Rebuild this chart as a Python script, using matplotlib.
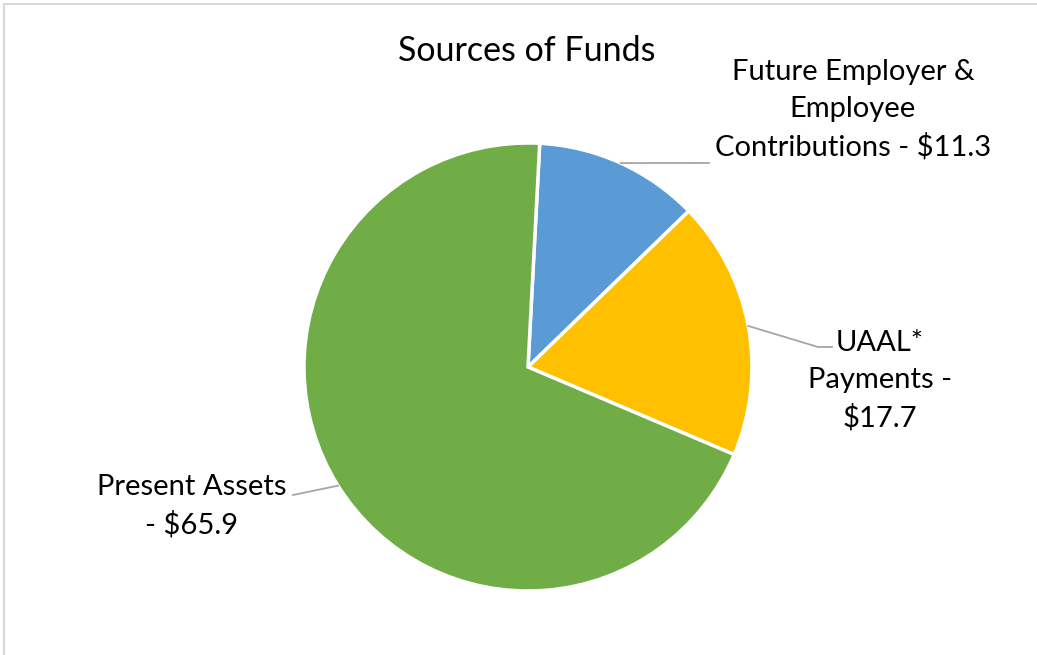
import numpy as np
import matplotlib
matplotlib.use('Agg')
import matplotlib.pyplot as plt

# Sources of funds (billions)
labels = ['Future Employer &\nEmployee\nContributions - $11.3',
          'UAAL*\nPayments -\n$17.7',
          'Present Assets\n- $65.9']
valores = [11.3, 17.7, 65.9]
colores = ['#5B9BD5', '#FFC000', '#70AD47']

plt.rcParams['font.family'] = ['Lato', 'DejaVu Sans']

W, H = 1037, 655
fig = plt.figure(figsize=(W / 100, H / 100), dpi=100)
ax = fig.add_axes([0, 0, 1, 1])

centro = (528, H - 367)
radio = 224
cunas, _ = ax.pie(valores, colors=colores, startangle=87, counterclock=False,
                  center=centro, radius=radio, frame=True,
                  wedgeprops=dict(edgecolor='white', linewidth=2.5))
ax.set_xlim(0, W)
ax.set_ylim(0, H)
ax.set_aspect('equal')
ax.axis('off')

# label positions (centre of text block) and elbow of each leader line
pos_texto = [(853, H - 110), (880, H - 381), (192, H - 506)]
codos = [(709, H - 163), (818, H - 347), (293, H - 495)]
finales = [(709, H - 163), (832, H - 347), (293, H - 495)]

for cuna, lab, pt, codo, fin in zip(cunas, labels, pos_texto, codos, finales):
    ang = np.deg2rad((cuna.theta1 + cuna.theta2) / 2)
    x0 = centro[0] + radio * np.cos(ang)
    y0 = centro[1] + radio * np.sin(ang)
    ax.plot([x0, codo[0], fin[0]], [y0, codo[1], fin[1]], color='#A6A6A6', lw=1.3)
    ax.text(pt[0], pt[1], lab, ha='center', va='center', fontsize=21,
            linespacing=1.5, color='black')

ax.text(527, H - 51, 'Sources of Funds', ha='center', va='center', fontsize=24.5)

# chart area border
ax.plot([4, 4, W], [0, H - 4, H - 4], color='#D9D9D9', lw=1.5, clip_on=False)

fig.savefig('out.png', dpi=100)
